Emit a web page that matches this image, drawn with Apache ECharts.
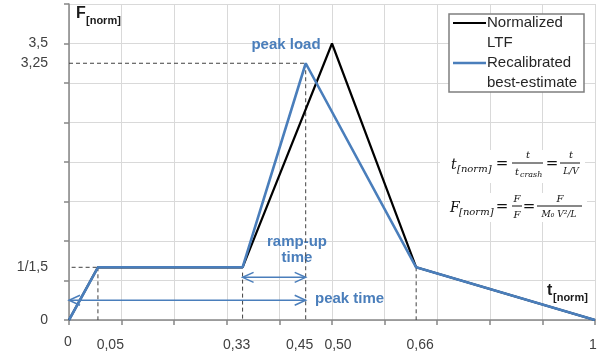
<!DOCTYPE html>
<html><head><meta charset="utf-8">
<script src="https://cdn.jsdelivr.net/npm/echarts@6/dist/echarts.min.js"></script>
<style>html,body{margin:0;padding:0;background:#fff}#c{width:597px;height:356px}</style>
</head><body><div id="c"></div>
<script>
// ---- data ----
const ltfT = [0, 0.055, 0.33, 0.50, 0.66, 1];
const ltfF = [0, 0.667, 0.667, 3.5, 0.667, 0];
const recalT = [0, 0.055, 0.33, 0.45, 0.66, 1];
const recalF = [0, 0.667, 0.667, 3.25, 0.667, 0];
const xTickValues = [0, 0.05, 0.33, 0.45, 0.50, 0.66, 1];
const xTickLabels = ['0', '0,05', '0,33', '0,45', '0,50', '0,66', '1'];
const yTickValues = [0, 2 / 3, 3.25, 3.5];
const yTickLabels = ['0', '1/1,5', '3,25', '3,5'];
const guideFrom = [[0, 3.25], [0.45, 3.25], [0.005, 0.667], [0.055, 0.667], [0.33, 0.6], [0.66, 0.667]];
const guideTo = [[0.45, 3.25], [0.45, 0], [0.055, 0.667], [0.055, 0], [0.33, 0], [0.66, 0]];
const arrowFrom = [[0.33, 0.54], [0, 0.25]];
const arrowTo = [[0.45, 0.54], [0.45, 0.25]];
const seriesNames = ['Normalized LTF', 'Recalibrated best-estimate'];

// ---- styles ----
const BLUE = '#4A7EBB';
const FONT = 'Liberation Sans';
const SERIF = 'DejaVu Serif';
const xLabelShift = [-1, 15, -6, -6, 6, 4, -2];

const chart = echarts.init(document.getElementById('c'), null, { renderer: 'canvas' });

const guideData = guideFrom.map((p, i) => [p[0], p[1], guideTo[i][0], guideTo[i][1]]);
const arrowData = arrowFrom.map((p, i) => [p[0], p[1], arrowTo[i][0], arrowTo[i][1]]);

function chevron(x, y, dir, c) {
  const L = 11, H = 5;
  return { type: 'polyline', shape: { points: [[x - dir * L, y - H], [x, y], [x - dir * L, y + H]] },
    style: { stroke: c, lineWidth: 1.5, fill: null } };
}

const option = {
  animation: false,
  backgroundColor: '#fff',
  grid: { left: 69, right: 2, top: 4, bottom: 36 },
  xAxis: {
    type: 'value', min: 0, max: 1, interval: 0.1,
    axisLine: { show: true, lineStyle: { color: '#868686', width: 1.5 } },
    axisTick: { show: true, length: 5, lineStyle: { color: '#868686', width: 1.5 } },
    axisLabel: { show: false },
    splitLine: { show: true, lineStyle: { color: '#D9D9D9', width: 1 } }
  },
  yAxis: {
    type: 'value', min: 0, max: 4, interval: 0.5,
    axisLine: { show: true, lineStyle: { color: '#868686', width: 1.5 } },
    axisTick: { show: true, length: 5, lineStyle: { color: '#868686', width: 1.5 } },
    axisLabel: {
      show: true, customValues: yTickValues, margin: 21,
      color: '#404040', fontFamily: FONT, fontSize: 14,
      formatter: v => { const i = yTickValues.findIndex(t => Math.abs(t - v) < 1e-6); return i >= 0 ? yTickLabels[i] : ''; }
    },
    splitLine: { show: true, lineStyle: { color: '#D9D9D9', width: 1 } }
  },
  series: [
    {
      type: 'custom', name: 'guides', z: 1, silent: true,
      encode: { x: [0, 2], y: [1, 3] },
      data: guideData,
      renderItem: (params, api) => {
        const a = api.coord([api.value(0), api.value(1)]);
        const b = api.coord([api.value(2), api.value(3)]);
        return { type: 'line', shape: { x1: a[0], y1: a[1], x2: b[0], y2: b[1] },
          style: { stroke: '#404040', lineWidth: 1, lineDash: [4, 3] } };
      }
    },
    {
      type: 'line', name: seriesNames[0], z: 3,
      data: ltfT.map((t, i) => [t, ltfF[i]]),
      showSymbol: false, symbol: 'none',
      lineStyle: { color: '#000', width: 2.2 }, itemStyle: { color: '#000' }
    },
    {
      type: 'line', name: seriesNames[1], z: 4,
      data: recalT.map((t, i) => [t, recalF[i]]),
      showSymbol: false, symbol: 'none',
      lineStyle: { color: BLUE, width: 2.6 }, itemStyle: { color: BLUE }
    },
    {
      type: 'custom', name: 'arrows', z: 5, silent: true,
      encode: { x: [0, 2], y: [1, 3] },
      data: arrowData,
      renderItem: (params, api) => {
        const a = api.coord([api.value(0), api.value(1)]);
        const b = api.coord([api.value(2), api.value(3)]);
        return { type: 'group', children: [
          { type: 'line', shape: { x1: a[0], y1: a[1], x2: b[0], y2: b[1] }, style: { stroke: BLUE, lineWidth: 1.5 } },
          chevron(a[0], a[1], -1, BLUE),
          chevron(b[0], b[1], 1, BLUE)
        ] };
      }
    }
  ]
};
chart.setOption(option);

// ---- annotations (text, legend, formulas) ----
const g = [];
xTickValues.forEach((v, i) => {
  const p = chart.convertToPixel({ gridIndex: 0 }, [v, 0]);
  g.push({ type: 'text', x: p[0] + xLabelShift[i], y: i === 0 ? 342 : 345,
    style: { text: xTickLabels[i], fill: '#404040', font: `14px "${FONT}"`, align: 'center', verticalAlign: 'middle' } });
});
// axis titles
g.push({ type: 'text', x: 76, y: 14, style: { text: 'F', fill: '#1a1a1a', font: `bold 16px "${FONT}"`, verticalAlign: 'middle' } });
g.push({ type: 'text', x: 86, y: 21, style: { text: '[norm]', fill: '#1a1a1a', font: `bold 11px "${FONT}"`, verticalAlign: 'middle' } });
g.push({ type: 'text', x: 547, y: 291, style: { text: 't', fill: '#1a1a1a', font: `bold 16px "${FONT}"`, verticalAlign: 'middle' } });
g.push({ type: 'text', x: 553, y: 298, style: { text: '[norm]', fill: '#1a1a1a', font: `bold 11px "${FONT}"`, verticalAlign: 'middle' } });
// blue annotations
g.push({ type: 'text', x: 286, y: 45, style: { text: 'peak load', fill: BLUE, font: `bold 15px "${FONT}"`, align: 'center', verticalAlign: 'middle' } });
g.push({ type: 'text', x: 297, y: 242, style: { text: 'ramp-up', fill: BLUE, font: `bold 15px "${FONT}"`, align: 'center', verticalAlign: 'middle' } });
g.push({ type: 'text', x: 297, y: 258, style: { text: 'time', fill: BLUE, font: `bold 15px "${FONT}"`, align: 'center', verticalAlign: 'middle' } });
g.push({ type: 'text', x: 315, y: 299, style: { text: 'peak time', fill: BLUE, font: `bold 15px "${FONT}"`, verticalAlign: 'middle' } });
// legend
g.push({ type: 'rect', shape: { x: 449, y: 14, width: 135, height: 78 }, style: { fill: '#fff', stroke: '#7F7F7F', lineWidth: 1.5 }, z: 10 });
g.push({ type: 'line', shape: { x1: 453, y1: 23, x2: 486, y2: 23 }, style: { stroke: '#000', lineWidth: 2.2 }, z: 11 });
g.push({ type: 'line', shape: { x1: 453, y1: 63, x2: 486, y2: 63 }, style: { stroke: BLUE, lineWidth: 2.6 }, z: 11 });
[['Normalized', 23], ['LTF', 43], ['Recalibrated', 63], ['best-estimate', 83]].forEach(([t, y]) => {
  g.push({ type: 'text', x: 487, y: y, z: 11, style: { text: t, fill: '#262626', font: `15px "${FONT}"`, verticalAlign: 'middle' } });
});
// formula boxes
g.push({ type: 'rect', shape: { x: 440, y: 150, width: 145, height: 33 }, style: { fill: '#fff' }, z: 10 });
g.push({ type: 'rect', shape: { x: 440, y: 193, width: 147, height: 29 }, style: { fill: '#fff' }, z: 10 });
function ft(t, x, y, size, align) {
  g.push({ type: 'text', x: x, y: y, z: 11, style: { text: t, fill: '#111', font: `italic ${size}px "${SERIF}"`, align: align || 'left', verticalAlign: 'middle' } });
}
function eq(x, y) {
  g.push({ type: 'text', x: x, y: y, z: 11, style: { text: '=', fill: '#111', font: `15px "${SERIF}"`, align: 'center', verticalAlign: 'middle' } });
}
function bar(x1, x2, y) {
  g.push({ type: 'line', z: 11, shape: { x1: x1, y1: y, x2: x2, y2: y }, style: { stroke: '#111', lineWidth: 1 } });
}
// row 1
ft('t', 451, 165, 14); ft('[norm]', 457, 169, 10);
eq(502, 164);
ft('t', 528, 155, 10, 'center'); bar(512, 543, 163); ft('t', 515, 172, 10); ft('crash', 520, 175, 8);
eq(552, 164);
ft('t', 571, 155, 10, 'center'); bar(560, 580, 163); ft('L/V', 571, 172, 9, 'center');
// row 2
ft('F', 450, 208, 14); ft('[norm]', 459, 212, 10);
eq(502, 207);
ft('F', 517, 199, 10, 'center'); bar(512, 522, 206); ft('F', 517, 215, 10, 'center');
eq(529, 207);
ft('F', 560, 199, 10, 'center'); bar(537, 582, 206); ft('M\u2080 V\u00B2/L', 559, 215, 9, 'center');

chart.setOption({ graphic: g });
</script>
</body></html>
